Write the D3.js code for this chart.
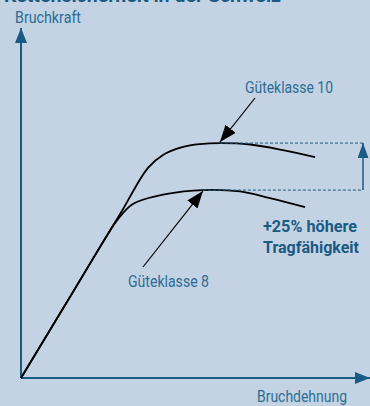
<!DOCTYPE html>
<html>
<head>
<meta charset="utf-8">
<script src="https://cdn.jsdelivr.net/npm/d3@7/dist/d3.min.js"></script>
<style>
  html, body { margin: 0; padding: 0; background: #c3d3e3; }
  svg { display: block; }
  text { font-family: Roboto, "Liberation Sans", sans-serif; }
</style>
</head>
<body>
<svg id="chart" width="370" height="406"></svg>
<script>
// Bruchdehnung (x) vs. Bruchkraft (y), relative units
const klasse10X = [0, 12, 23.6, 30, 37.9, 42.4, 48.4, 53.4, 59.4, 68.4, 78.2, 87.8];
const klasse10Y = [0, 19.1, 37.6, 47.8, 60.4, 64.1, 66.4, 67.2, 67.5, 67.1, 65.5, 63.5];
const klasse8X  = [0, 13.3, 26.6, 28.9, 33.4, 43.6, 54.3, 65.4, 74.3, 84.8];
const klasse8Y  = [0, 21.2, 42.4, 45.6, 50.0, 52.9, 54.0, 53.6, 51.7, 49.1];
const peakX = [59.4, 54.3];      // Höchstwerte Güteklasse 10 / 8
const peakY = [67.5, 54.0];      // 54.0 * 1.25 = 67.5  (+25 %)
const curveNames = ["Güteklasse 10", "Güteklasse 8"];
const axisLabels = ["Bruchkraft", "Bruchdehnung"];
const titleText = "Kettensicherheit in der Schweiz";
const gainText = ["+25% höhere", "Tragfähigkeit"];

const svg = d3.select("#chart");
const axisColor = "#1b5a83";
const labelColor = "#2c6d96";

const x = d3.scaleLinear().domain([0, 100]).range([21, 356]);
const y = d3.scaleLinear().domain([0, 100]).range([378, 30]);

const defs = svg.append("defs");
function marker(id, color, w, h) {
  defs.append("marker")
    .attr("id", id).attr("viewBox", `0 0 ${w} ${h}`)
    .attr("refX", w).attr("refY", h / 2)
    .attr("markerWidth", w).attr("markerHeight", h)
    .attr("markerUnits", "userSpaceOnUse")
    .attr("orient", "auto")
    .append("path").attr("d", `M0,0L${w},${h / 2}L0,${h}Z`).attr("fill", color);
}
marker("axisHead", axisColor, 15, 12);
marker("diffHead", axisColor, 15, 11);
marker("blackHead", "#000", 17, 13);

// condensed label: width fixed through textLength
function label(txt, x0, y0, width, opts = {}) {
  return svg.append("text").attr("x", x0).attr("y", y0)
    .attr("font-size", opts.size || 16.5)
    .attr("font-weight", opts.bold ? "bold" : "normal")
    .attr("fill", opts.color || labelColor)
    .attr("textLength", width).attr("lengthAdjust", "spacingAndGlyphs")
    .text(txt);
}

// title (cut by the top edge)
label(titleText, 4, 2, 277, { size: 18, bold: true, color: "#1b5a83" });

// axes
svg.append("line")
  .attr("x1", x(0)).attr("y1", y(0)).attr("x2", x(0)).attr("y2", 28)
  .attr("stroke", axisColor).attr("stroke-width", 2).attr("marker-end", "url(#axisHead)");
svg.append("line")
  .attr("x1", x(0)).attr("y1", y(0)).attr("x2", 370).attr("y2", y(0))
  .attr("stroke", axisColor).attr("stroke-width", 2).attr("marker-end", "url(#axisHead)");

label(axisLabels[0], 15, 22.7, 66);
label(axisLabels[1], 257, 402, 90);

// curves
const line = d3.line().x(d => x(d[0])).y(d => y(d[1])).curve(d3.curveCatmullRom.alpha(0.5));
[[klasse10X, klasse10Y], [klasse8X, klasse8Y]].forEach(([xs, ys]) => {
  svg.append("path")
    .datum(xs.map((v, i) => [v, ys[i]]))
    .attr("d", line).attr("fill", "none")
    .attr("stroke", "#000").attr("stroke-width", 1.8);
});

// dashed reference lines at the peaks
peakY.forEach((v, i) => {
  svg.append("line")
    .attr("x1", x(peakX[i])).attr("x2", 363)
    .attr("y1", y(v)).attr("y2", y(v))
    .attr("stroke", axisColor).attr("stroke-width", 1)
    .attr("stroke-dasharray", "3,2");
});
// difference arrow
svg.append("line")
  .attr("x1", 363).attr("x2", 363)
  .attr("y1", y(peakY[1])).attr("y2", y(peakY[0]))
  .attr("stroke", axisColor).attr("stroke-width", 1.5)
  .attr("marker-end", "url(#diffHead)");

// callouts
svg.append("line")
  .attr("x1", 255).attr("y1", 98).attr("x2", x(peakX[0])).attr("y2", y(peakY[0]) - 1)
  .attr("stroke", "#000").attr("stroke-width", 1.2).attr("marker-end", "url(#blackHead)");
label(curveNames[0], 245, 93.3, 88, { size: 17 });

svg.append("line")
  .attr("x1", 143).attr("y1", 267).attr("x2", x(peakX[1])).attr("y2", y(peakY[1]) + 1)
  .attr("stroke", "#000").attr("stroke-width", 1.2).attr("marker-end", "url(#blackHead)");
label(curveNames[1], 128, 286.5, 81, { size: 17 });

label(gainText[0], 263, 232, 94, { size: 17, bold: true, color: "#1b5a83" });
label(gainText[1], 263, 252.5, 96, { size: 17, bold: true, color: "#1b5a83" });
</script>
</body>
</html>
